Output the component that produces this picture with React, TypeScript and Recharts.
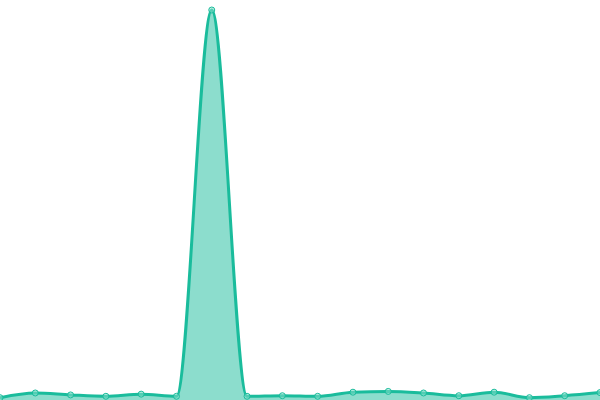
import { AreaChart, Area, XAxis, YAxis } from 'recharts'

// 18 evenly spaced samples, one big spike at index 6
const labels = ['1', '2', '3', '4', '5', '6', '7', '8', '9', '10', '11', '12', '13', '14', '15', '16', '17', '18']
const values = [6, 18, 13, 9.5, 15, 9.5, 1000, 9.5, 11, 9.5, 20, 22, 18, 11, 20, 6, 11, 19]

const data = labels.map((label, i) => ({ label, value: values[i] }))

const teal = '#1abc9c'

export default function App() {
  return (
    <div style={{ position: 'absolute', top: 0, left: 0, width: 600, height: 400 }}>
      <AreaChart width={600} height={400} data={data} margin={{ top: 10, right: 0, left: 0, bottom: 0 }}>
        <XAxis dataKey="label" hide />
        <YAxis hide domain={[0, 'dataMax']} />
        <Area
          type="monotone"
          dataKey="value"
          stroke={teal}
          strokeWidth={3}
          fill={teal}
          fillOpacity={0.5}
          dot={{ r: 3, fill: '#8ae0cc', stroke: teal, strokeWidth: 1 }}
          isAnimationActive={false}
        />
      </AreaChart>
    </div>
  )
}
